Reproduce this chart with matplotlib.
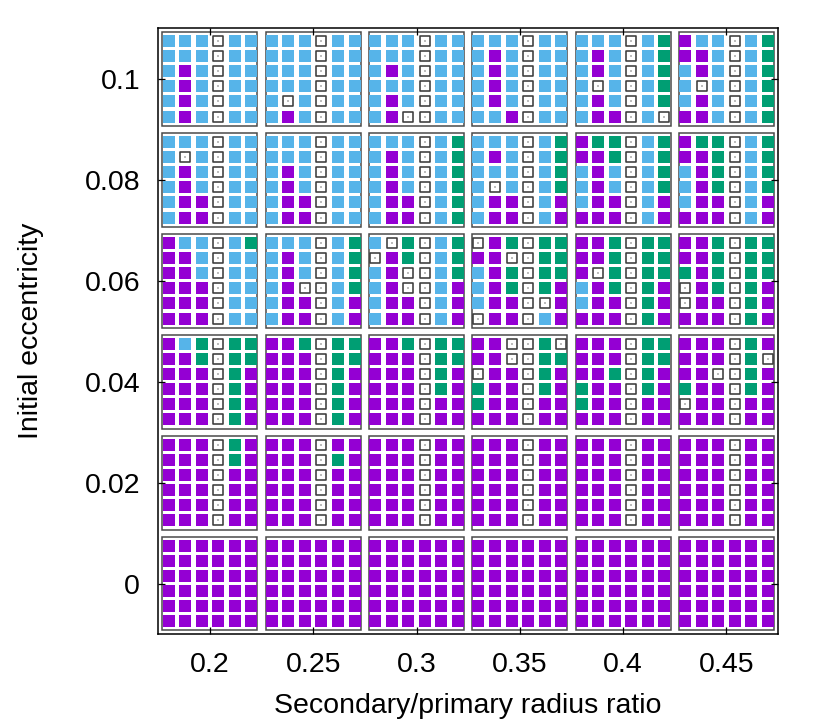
import numpy as np
import matplotlib
matplotlib.use("Agg")
import matplotlib.pyplot as plt
from matplotlib.patches import Rectangle

# ---------------- data ----------------
ratios = [0.2, 0.25, 0.3, 0.35, 0.4, 0.45]
eccs = [0.1, 0.08, 0.06, 0.04, 0.02, 0.0]
xtick_labels = ["0.2", "0.25", "0.3", "0.35", "0.4", "0.45"]
ytick_vals = [0.0, 0.02, 0.04, 0.06, 0.08, 0.1]
ytick_labels = ["0", "0.02", "0.04", "0.06", "0.08", "0.1"]

# outcome codes per sub-cell (top row first): P purple, B blue, G green, W open
ecc_010 = [
    ["BBBWBB", "BBBWBB", "BPBWBB", "BPBWBB", "BPBWBB", "BPBWBB"],
    ["BBBWBB", "BBBWBB", "BBBWBB", "BBBWBB", "BWBWBB", "BPBWBB"],
    ["BBBWBB", "BBBWBB", "BPBWBB", "BBBWBB", "BPBWBB", "BPWWBB"],
    ["BBBWBB", "BPBWBB", "BPBWBB", "BPBWBB", "BPBWBB", "BBPWBB"],
    ["BBBWBG", "BPBWBG", "BPBWBG", "BWBWBG", "BPBWBG", "BPPWBW"],
    ["PBBWBG", "PPBWBG", "BPBWBG", "BWBWBG", "BPBWBG", "PPBWBG"],
]
ecc_008 = [
    ["BBBWBB", "BWBWBB", "BPBWBB", "BPBWBB", "BPPWBB", "BPPWBB"],
    ["BBBWBB", "BBBWBB", "BPBWBB", "BPBWBB", "BPPWBB", "BPPWBB"],
    ["BBBWBG", "BPBWBG", "BPBWBG", "BPBWBG", "BPPWBG", "BPPWBG"],
    ["BBBWBG", "BPBWBG", "BBBWBG", "BWBWBG", "BPPWBP", "BPPWBP"],
    ["PGGWBG", "PPGWBG", "BPBWBG", "BPBWBG", "BPPWBP", "PPPWBP"],
    ["PGGWBG", "PPGWBG", "BPGWBG", "BPGWBG", "BPPWBP", "PPPWBP"],
]
ecc_006 = [
    ["PBBWBG", "PPBWBB", "PPBWBB", "PPPWBB", "PPPWBB", "PPPWBB"],
    ["BBBWBG", "BPBWBG", "BPBWBG", "BPWWBG", "BPPWBP", "BPPWBP"],
    ["BWGWBG", "WPGWBG", "BPWWBG", "BPWWBP", "BPPWBP", "BPPWBP"],
    ["WPGWGG", "PPWWGG", "BPGWGG", "BPGWGP", "BPPWWP", "WPPWBP"],
    ["PPGWGG", "PPGWGG", "PWGWGG", "BPGWGP", "BPPWGP", "PPPWGP"],
    ["PPGWGG", "PPGWGG", "GPGWGG", "WPGWGP", "WPPWGP", "PPPWGP"],
]
ecc_004 = [
    ["PBGWGG", "PPGWGG", "PPPWGP", "PPPWGP", "PPPWGP", "PPPWGP"],
    ["PPGWGG", "PPPWGG", "PPPWGP", "PPPWGP", "PPPWGP", "PPPWGP"],
    ["PPGWGG", "PPPWGG", "PPPWGP", "PPPWGP", "PPPWPP", "PPPWPP"],
    ["PPWWGW", "PPWWGG", "WPPWGP", "GPPWGP", "GPPWPP", "PPPWPP"],
    ["PPPWGG", "PPPWGG", "PPGWGP", "GPPWGP", "GPPWPP", "PPPWPP"],
    ["PPPWGP", "PPPWGW", "PPWWGP", "GPPWGP", "WPPWPP", "PPPWPP"],
]
ecc_002 = [
    ["PPPWGP", "PPPWGP", "PPPWPP", "PPPWPP", "PPPWPP", "PPPWPP"],
    ["PPPWPP", "PPPWGP", "PPPWPP", "PPPWPP", "PPPWPP", "PPPWPP"],
    ["PPPWPP", "PPPWPP", "PPPWPP", "PPPWPP", "PPPWPP", "PPPWPP"],
    ["PPPWPP", "PPPWPP", "PPPWPP", "PPPWPP", "PPPWPP", "PPPWPP"],
    ["PPPWPP", "PPPWPP", "PPPWPP", "PPPWPP", "PPPWPP", "PPPWPP"],
    ["PPPWPP", "PPPWPP", "PPPWPP", "PPPWPP", "PPPWPP", "PPPWPP"],
]
ecc_000 = [
    ["PPPPPP"] * 6,
    ["PPPPPP"] * 6,
    ["PPPPPP"] * 6,
    ["PPPPPP"] * 6,
    ["PPPPPP"] * 6,
    ["PPPPPP"] * 6,
]
panels_by_ecc = [ecc_010, ecc_008, ecc_006, ecc_004, ecc_002, ecc_000]

# ---------------- layout / style ----------------
sub_dx = np.array([-0.02, -0.012, -0.004, 0.004, 0.012, 0.02])
sub_de = np.array([0.0075, 0.0045, 0.0015, -0.0015, -0.0045, -0.0075])
panel_hw = 0.023
panel_hh = 0.0093
colors = {"P": "#9400D3", "B": "#56B4E9", "G": "#009E73"}

plt.rcParams["font.family"] = ["Liberation Sans", "DejaVu Sans"]

W, H = 830, 727
fig = plt.figure(figsize=(W / 100, H / 100), dpi=100)
L, R, T, B = 158.3, 778.0, 28.3, 634.0
ax = fig.add_axes([L / W, 1 - B / H, (R - L) / W, (B - T) / H])

pts = {"P": ([], []), "B": ([], []), "G": ([], []), "W": ([], [])}
for ei, e in enumerate(eccs):
    for ri, r in enumerate(ratios):
        ax.add_patch(Rectangle((r - panel_hw, e - panel_hh), 2 * panel_hw, 2 * panel_hh,
                               facecolor="none", edgecolor="#4a4a4a", lw=1.1, zorder=1))
        grid = panels_by_ecc[ei][ri]
        for row, line in enumerate(grid):
            for col, code in enumerate(line):
                pts[code][0].append(r + sub_dx[col])
                pts[code][1].append(e + sub_de[row])

for code in ["P", "B", "G"]:
    ax.scatter(pts[code][0], pts[code][1], s=64, marker="s", c=colors[code],
               linewidths=0, zorder=2)
ax.scatter(pts["W"][0], pts["W"][1], s=46, marker="s", facecolors="white",
           edgecolors="#3c3c3c", linewidths=1.15, zorder=2)
ax.scatter(pts["W"][0], pts["W"][1], s=0.6, marker="s", c="#bdbdbd",
           linewidths=0, zorder=3)

ax.set_xlim(0.175, 0.475)
ax.set_ylim(-0.01, 0.11)
ax.set_xticks(ratios)
ax.set_xticklabels(xtick_labels)
ax.set_yticks(ytick_vals)
ax.set_yticklabels(ytick_labels)
ax.tick_params(direction="in", length=5, width=0.9, top=True, right=True,
               labelsize=20.5, pad=13)
for s in ax.spines.values():
    s.set_linewidth(1.1)
    s.set_color("black")

ax.set_xlabel("Secondary/primary radius ratio", fontsize=20.5, labelpad=11)
ax.set_ylabel("Initial eccentricity", fontsize=20.5, labelpad=29)

fig.savefig("out.png", dpi=100)
